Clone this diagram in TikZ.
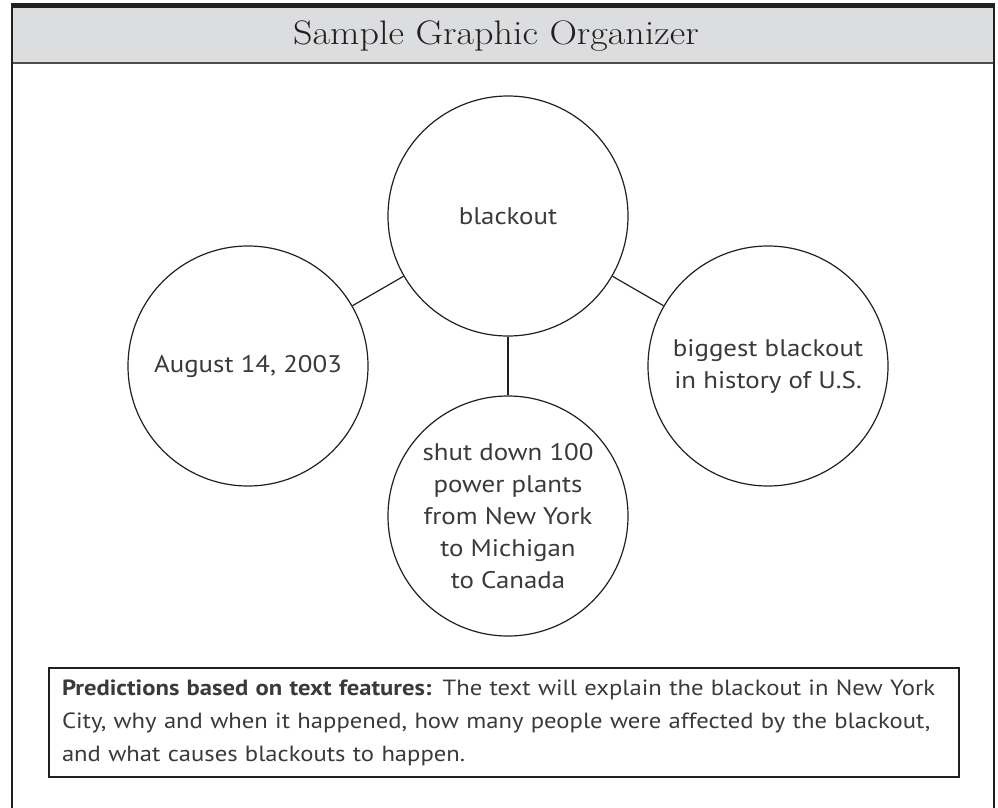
\documentclass[tikz,border=0pt]{standalone}
\usepackage{fontspec}
\newfontfamily\handfont{PT Sans}[FakeStretch=1.12]
\newfontfamily\titlefont{lmroman17-regular}[Extension=.otf,FakeStretch=1.12]
\usetikzlibrary{positioning}

\definecolor{headgray}{HTML}{DCDDDF}
\definecolor{framegray}{HTML}{231F20}
\definecolor{inkgray}{HTML}{3A3A3A}

\tikzset{
	idea/.style={circle,draw=framegray,line width=1.2pt,minimum size=240pt,inner sep=0pt,
		align=center,text=inkgray,font=\handfont\fontsize{24}{32}\selectfont},
	link/.style={draw=framegray,line width=1.2pt},
}

\begin{document}
\begin{tikzpicture}[x=1pt,y=-1pt]
	\useasboundingbox (0,0) rectangle (998,808);

	% frame and header
	\fill[headgray] (12,8) rectangle (994,63);
	\draw[framegray,line width=5pt] (11,5.5) -- (995,5.5);
	\draw[framegray!80,line width=2pt] (12,63) -- (994,63);
	\draw[framegray,line width=2pt] (12,8) -- (12,808);
	\draw[framegray,line width=2pt] (994,8) -- (994,808);
	\node[text=framegray,font=\titlefont\fontsize{34}{40}\selectfont] (title) at (496,36) {Sample Graphic Organizer};

	% circles
	\node[idea]	(blackout)	at	(508,216)	{blackout};
	\node[idea]	(date)		at	(248,366)	{August 14, 2003};
	\node[idea]	(biggest)	at	(768,366)	{biggest blackout\\in history of U.S.};
	\node[idea]	(plants)	at	(508,516)	{shut down 100\\power plants\\from New York\\to Michigan\\to Canada};

	\path[link]	(blackout)	edge	(date);
	\path[link]	(blackout)	edge	(biggest);
	\path[link]	(blackout)	edge	(plants);

	% predictions
	\node[draw=framegray,line width=1.2pt,minimum height=109pt,text width=884pt,inner xsep=13pt,
		align=left,text=inkgray,font=\handfont\fontsize{22}{33}\selectfont] (predict) at (504,722.5)
		{\textbf{Predictions based on text features:} The text will explain the blackout in New York\\
		City, why and when it happened, how many people were affected by the blackout,\\
		and what causes blackouts to happen.};
\end{tikzpicture}
\end{document}
